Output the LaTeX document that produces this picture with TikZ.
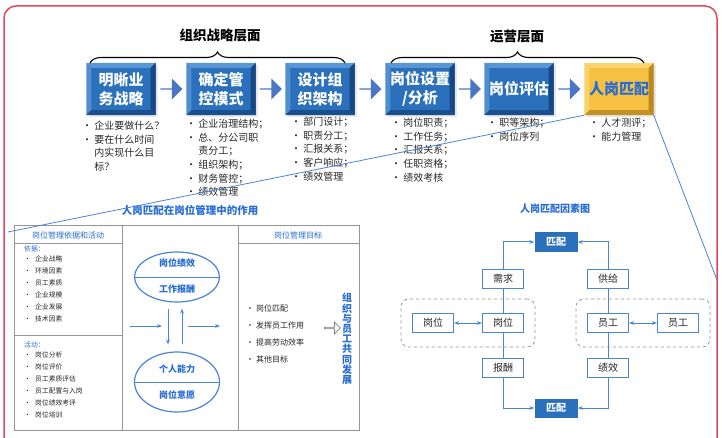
\documentclass[tikz,border=0pt]{standalone}
\usepackage{fontspec}
\setmainfont{Noto Sans CJK SC}
\usetikzlibrary{positioning,calc,fit,shapes.arrows,shapes.geometric,shadows,decorations.pathreplacing,arrows.meta}

\definecolor{faceblue}{RGB}{42,112,186}
\definecolor{lightblue}{RGB}{88,150,214}
\definecolor{darkblue}{RGB}{24,72,132}
\definecolor{arrowblue}{RGB}{74,118,198}
\definecolor{lineblue}{RGB}{72,132,216}
\definecolor{titleblue}{RGB}{38,108,212}
\definecolor{faceyellow}{RGB}{246,192,66}
\definecolor{lightyellow}{RGB}{251,214,112}
\definecolor{darkyellow}{RGB}{186,138,34}
\definecolor{borderred}{RGB}{222,72,92}
\definecolor{textgray}{RGB}{38,38,38}
\definecolor{framegray}{RGB}{150,150,150}

\newcommand{\tbul}{\makebox[11pt][l]{•}}
\newcommand{\gbul}{\makebox[10pt][l]{•}}

\begin{document}
\begin{tikzpicture}[x=1pt, y=-1pt, >={Stealth[length=5pt]},
    bevelbox/.style={minimum width=69pt, minimum height=52pt, inner sep=0pt, align=center,
      font=\fontsize{15}{19}\selectfont\bfseries,
      drop shadow={opacity=0.18, shadow xshift=2pt, shadow yshift=-2pt}},
    stratbox/.style={bevelbox, fill=faceblue, text=white},
    matchbox/.style={bevelbox, fill=faceyellow, text=titleblue},
    flowarrow/.style={single arrow, fill=arrowblue, minimum width=21pt, minimum height=22pt,
      single arrow head extend=3.5pt, inner sep=0pt},
    notes/.style={anchor=north west, align=left, inner sep=0pt, text=textgray,
      font=\fontsize{10}{13.6}\selectfont},
    layer/.style={font=\fontsize{13.5}{16}\selectfont\bfseries},
    layerbrace/.style={decorate, decoration={brace, amplitude=11pt}, line width=1.1pt},
    zoomline/.style={lineblue, line width=0.8pt},
    paneltitle/.style={text=titleblue, font=\fontsize{10.5}{12}\selectfont\bfseries},
    frame/.style={draw=framegray, line width=0.7pt},
    colhead/.style={text=titleblue, font=\fontsize{8}{10}\selectfont},
    tinylist/.style={anchor=north west, align=left, inner sep=0pt, text=textgray,
      font=\fontsize{6.8}{11.9}\selectfont},
    goallist/.style={anchor=north west, align=left, inner sep=0pt, text=textgray,
      font=\fontsize{8}{16.7}\selectfont},
    roundel/.style={ellipse, draw=lineblue, line width=1.2pt, minimum width=85pt, inner sep=0pt},
    roundtext/.style={text=titleblue, font=\fontsize{9}{11}\selectfont\bfseries},
    flow/.style={->, lineblue, line width=1pt},
    factor/.style={draw=lineblue, line width=1.1pt, minimum width=41pt, minimum height=19pt,
      inner sep=0pt, text=textgray, font=\fontsize{10}{12}\selectfont},
    matchnode/.style={fill=faceblue, minimum width=43pt, minimum height=19pt, inner sep=0pt,
      text=white, font=\fontsize{10}{12}\selectfont\bfseries},
    link/.style={lineblue, line width=1pt},
    dashbox/.style={draw=gray!85, dashed, rounded corners=8pt, line width=0.8pt,
      inner xsep=11pt, inner ysep=14pt}]

  \useasboundingbox (0,0) rectangle (722,438);
  \draw[borderred, line width=1.5pt, rounded corners=12pt] (4,6) rectangle (717,470);

  % upper chain of steps
  \foreach \i/\x/\txt in {1/121/{明晰业\\务战略}, 2/221/{确定管\\控模式}, 3/320/{设计组\\织架构},
                          4/420/{岗位设置\\/分析}, 5/519/{岗位评估}} {
    \node[stratbox] (s\i) at (\x,89) {\txt};
    \fill[lightblue] (s\i.north west) -- (s\i.north east) -- ([shift={(-5,5)}]s\i.north east)
      -- ([shift={(5,5)}]s\i.north west) -- cycle;
    \fill[lightblue!80!faceblue] (s\i.north west) -- ([shift={(5,5)}]s\i.north west)
      -- ([shift={(5,-5)}]s\i.south west) -- (s\i.south west) -- cycle;
    \fill[darkblue] (s\i.north east) -- ([shift={(-5,5)}]s\i.north east)
      -- ([shift={(-5,-5)}]s\i.south east) -- (s\i.south east) -- cycle;
    \fill[darkblue!85!faceblue] (s\i.south west) -- (s\i.south east) -- ([shift={(-5,-5)}]s\i.south east)
      -- ([shift={(5,-5)}]s\i.south west) -- cycle;
  }
  \node[matchbox] (s6) at (619,89) {人岗匹配};
  \fill[lightyellow] (s6.north west) -- (s6.north east) -- ([shift={(-5,5)}]s6.north east)
    -- ([shift={(5,5)}]s6.north west) -- cycle;
  \fill[lightyellow!80!faceyellow] (s6.north west) -- ([shift={(5,5)}]s6.north west)
    -- ([shift={(5,-5)}]s6.south west) -- (s6.south west) -- cycle;
  \fill[darkyellow] (s6.north east) -- ([shift={(-5,5)}]s6.north east)
    -- ([shift={(-5,-5)}]s6.south east) -- (s6.south east) -- cycle;
  \fill[darkyellow!85!faceyellow] (s6.south west) -- (s6.south east) -- ([shift={(-5,-5)}]s6.south east)
    -- ([shift={(5,-5)}]s6.south west) -- cycle;

  \foreach \a/\b in {1/2, 2/3, 3/4, 4/5, 5/6}
    \node[flowarrow] (f\a) at ($(s\a.east)!0.5!(s\b.west)$) {};

  % layer braces
  \coordinate (b1l) at (90,63);  \coordinate (b1r) at (345,63);
  \coordinate (b2l) at (391,63); \coordinate (b2r) at (644,63);
  \draw[layerbrace] (b1l) -- (b1r);
  \draw[layerbrace] (b2l) -- (b2r);
  \node[layer] (lay1) at (220,35) {组织战略层面};
  \node[layer] (lay2) at (517,36) {运营层面};

  % notes below the steps
  \node[notes] (n1) at (82,121) {• 企业要做什么？\\• 要在什么时间\\\phantom{• }内实现什么目\\\phantom{• }标？};
  \node[notes] (n2) at (186,119) {• 企业治理结构；\\• 总、分公司职\\\phantom{• }责分工；\\• 组织架构；\\• 财务管控；\\• 绩效管理};
  \node[notes] (n3) at (291,117) {• 部门设计；\\• 职责分工；\\• 汇报关系；\\• 客户响应；\\• 绩效管理};
  \node[notes] (n4) at (391,118) {• 岗位职责；\\• 工作任务；\\• 汇报关系；\\• 任职资格；\\• 绩效考核};
  \node[notes] (n5) at (487,118) {• 职等架构；\\• 岗位序列};
  \node[notes] (n6) at (589,118) {• 人才测评；\\• 能力管理};

  % left panel
  \node[paneltitle] (t1) at (190,210) {人岗匹配在岗位管理中的作用};
  \draw[frame] (14,225) rectangle (359,430);
  \draw[frame] (122,225) -- (122,430);
  \draw[frame] (238,225) -- (238,430);
  \draw[frame] (14,243) -- (122,243);
  \draw[frame] (14,335) -- (122,335);
  \draw[frame] (238,243) -- (359,243);
  \node[colhead] (h1) at (68,235) {岗位管理依据和活动};
  \node[colhead] (h3) at (298,235) {岗位管理目标};
  \node[tinylist, text=titleblue] (yj) at (24,246) {依据：};
  \node[tinylist] (l1) at (24,256) {\tbul 企业战略\\\tbul 环境因素\\\tbul 员工素质\\\tbul 企业规模\\\tbul 企业发展\\\tbul 技术因素};
  \node[tinylist, text=titleblue] (hd) at (24,342) {活动：};
  \node[tinylist] (l2) at (24,352) {\tbul 岗位分析\\\tbul 岗位评价\\\tbul 员工素质评估\\\tbul 员工配置与入岗\\\tbul 岗位绩效考评\\\tbul 岗位培训};

  \node[roundel, minimum height=50pt] (el1) at (177,277) {};
  \node[roundel, minimum height=60pt] (el2) at (177,382) {};
  \draw[lineblue, line width=1pt] (el1.west) -- (el1.east);
  \draw[lineblue, line width=1pt] (el2.west) -- (el2.east);
  \node[roundtext] (r1) at (177,263) {岗位绩效};
  \node[roundtext] (r2) at (177,289) {工作报酬};
  \node[roundtext] (r3) at (177,369) {个人能力};
  \node[roundtext] (r4) at (177,395) {岗位意愿};
  \draw[flow] ([shift={(-9,6)}]el1.south) -- ([shift={(-9,-7)}]el2.north);
  \draw[flow] ([shift={(5,-7)}]el2.north) -- ([shift={(5,6)}]el1.south);
  \coordinate (inl) at (130,326);  \coordinate (inr) at (162,326);
  \coordinate (outl) at (188,326); \coordinate (outr) at (220,326);
  \draw[flow] (inl) -- (inr);
  \draw[flow] (outl) -- (outr);

  \node[goallist] (g1) at (246,305) {\gbul 岗位匹配\\\gbul 发挥员工作用\\\gbul 提高劳动效率\\\gbul 其他目标};
  \node[single arrow, draw=gray, line width=0.8pt, minimum width=12pt, minimum height=16pt,
    single arrow head extend=2.5pt, inner sep=0pt] (oa) at (332,328) {};
  \node[text=titleblue, font=\fontsize{10}{10.2}\selectfont\bfseries, align=center] (vt) at (347,339)
    {组\\织\\与\\员\\工\\共\\同\\发\\展};

  % right panel
  \node[paneltitle, font=\fontsize{10}{12}\selectfont\bfseries] (t2) at (555,209) {人岗匹配因素图};
  \node[matchnode] (mt) at (556,242) {匹配};
  \node[matchnode] (mb) at (556,408) {匹配};
  \node[factor] (xq) at (503,279) {需求};
  \node[factor] (gj) at (608,279) {供给};
  \node[factor] (gw1) at (433,323) {岗位};
  \node[factor] (gw2) at (503,323) {岗位};
  \node[factor] (yg1) at (608,323) {员工};
  \node[factor] (yg2) at (678,323) {员工};
  \node[factor] (bc) at (503,368) {报酬};
  \node[factor] (jx) at (608,368) {绩效};
  \node[dashbox, fit=(gw1)(gw2)] (dl) {};
  \node[dashbox, fit=(yg1)(yg2)] (dr) {};
  \draw[link, ->] (xq.north) |- (mt.west);
  \draw[link, ->] (gj.north) |- (mt.east);
  \draw[link] (xq) -- (gw2);
  \draw[link] (gw2) -- (bc);
  \draw[link, ->] (bc.south) |- (mb.west);
  \draw[link] (gj) -- (yg1);
  \draw[link] (yg1) -- (jx);
  \draw[link, ->] (jx.south) |- (mb.east);
  \draw[link, <->] (gw1) -- (gw2);
  \draw[link, <->] (yg1) -- (yg2);

  % zoom lines from the matching step
  \coordinate (zl) at (8,232);
  \coordinate (zr) at (717,280);
  \draw[zoomline] (s6.south west) -- (zl);
  \draw[zoomline] (s6.south east) -- (zr);
\end{tikzpicture}
\end{document}
